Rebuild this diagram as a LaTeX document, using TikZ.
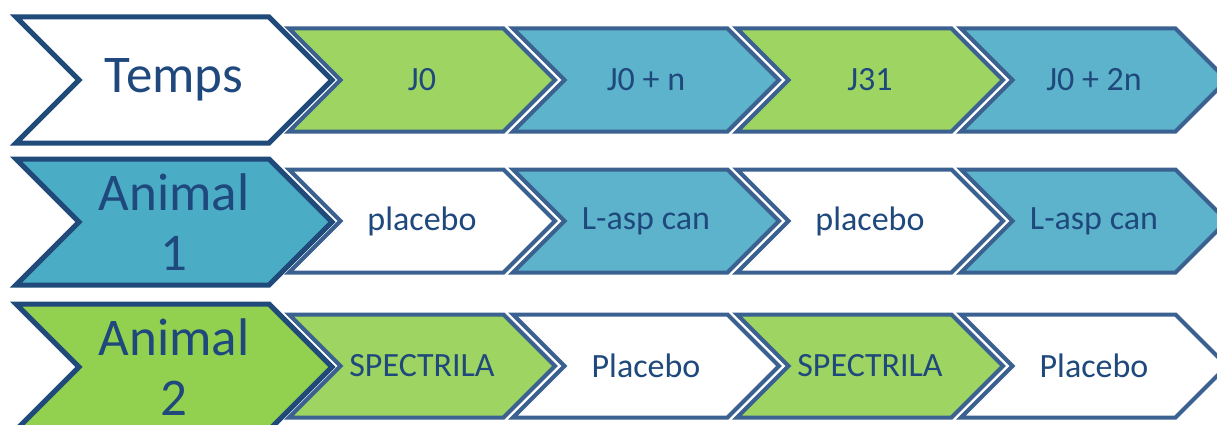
\documentclass[tikz,border=0pt]{standalone}
\usepackage{fontspec}
\setmainfont{Carlito}
\usepackage{tikz}
\usetikzlibrary{shapes.symbols}

\definecolor{edgeblue}{HTML}{1F4A7A}
\definecolor{lineblue}{HTML}{3A6190}
\definecolor{textblue}{HTML}{1F497D}
\definecolor{biggreen}{HTML}{92D050}
\definecolor{bigblue}{HTML}{4BACC6}
\definecolor{jgreen}{HTML}{9DD462}
\definecolor{jblue}{HTML}{5DB3CB}

\begin{document}
\begin{tikzpicture}[x=1pt, y=-1pt, line join=miter,
    chevron/.style={shape=signal, signal from=west, signal to=east, signal pointer angle=90, inner sep=0pt, text=textblue},
    big chevron/.style={chevron, draw=edgeblue, line width=5pt, minimum width=316pt, minimum height=126pt, align=center, font=\fontsize{53}{60}\selectfont},
    small chevron/.style={chevron, draw=lineblue, line width=4pt, minimum width=266pt, minimum height=103pt, font=\fontsize{34}{40}\selectfont}]
    \useasboundingbox (0,0) rectangle (1217,425);
    \begin{scope}
    \clip (0,0) rectangle (1217,425);
    % first column
    \node[big chevron, fill=white] (temps) at (174,80) {Temps};
    \node[big chevron, fill=bigblue] (animal1) at (174,222) {Animal\\1};
    \node[big chevron, fill=biggreen] (animal2) at (174,367) {Animal\\2};
    % time line
    \foreach \lab/\col [count=\i] in {J0/jgreen, J0 + n/jblue, J31/jgreen, J0 + 2n/jblue}
        \node[small chevron, fill=\col] (t\i) at (198+224*\i,80) {\lab};
    % animal 1
    \foreach \lab/\col [count=\i] in {placebo/white, L-asp can/jblue, placebo/white, L-asp can/jblue}
        \node[small chevron, fill=\col] (a\i) at (198+224*\i,221) {\lab};
    % animal 2
    \foreach \lab/\col [count=\i] in {SPECTRILA/jgreen, Placebo/white, SPECTRILA/jgreen, Placebo/white}
        \node[small chevron, fill=\col] (b\i) at (198+224*\i,366) {\lab};
    \end{scope}
\end{tikzpicture}
\end{document}
